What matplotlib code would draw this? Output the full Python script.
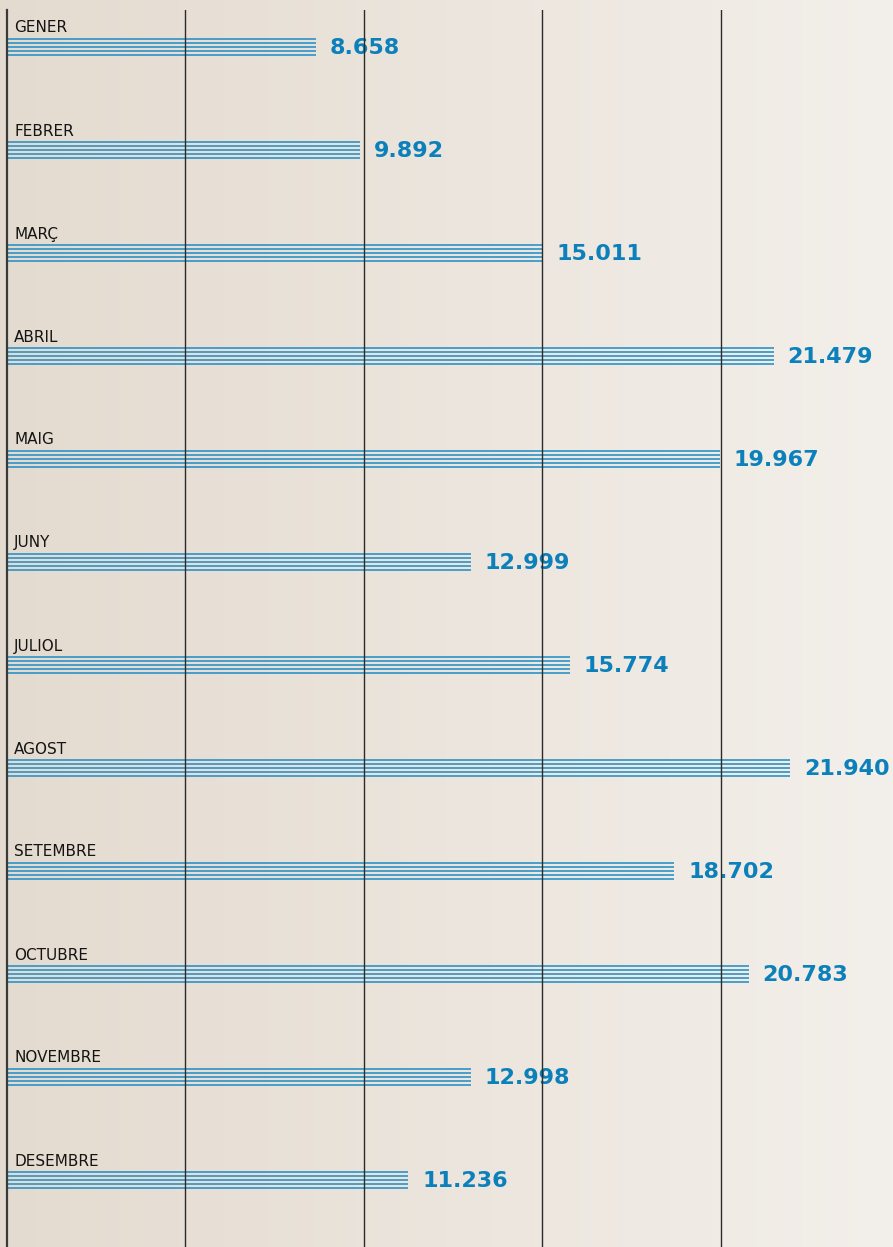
import numpy as np
import matplotlib
matplotlib.use('Agg')
import matplotlib.pyplot as plt
from matplotlib.colors import LinearSegmentedColormap

months = ["GENER", "FEBRER", "MARÇ", "ABRIL", "MAIG", "JUNY", "JULIOL",
          "AGOST", "SETEMBRE", "OCTUBRE", "NOVEMBRE", "DESEMBRE"]
values = [8658, 9892, 15011, 21479, 19967, 12999, 15774,
          21940, 18702, 20783, 12998, 11236]
labels = ["8.658", "9.892", "15.011", "21.479", "19.967", "12.999", "15.774",
          "21.940", "18.702", "20.783", "12.998", "11.236"]
grid_x = [5000, 10000, 15000, 20000]

W, H = 893, 1247
fig = plt.figure(figsize=(W / 100, H / 100), dpi=100)

# background gradient
bg = fig.add_axes([0, 0, 1, 1], zorder=0)
cmap = LinearSegmentedColormap.from_list("bg", ["#e4dbd0", "#f3efea"])
bg.imshow(np.linspace(0, 1, 256).reshape(1, -1), aspect='auto', cmap=cmap,
          extent=[0, 1, 0, 1])
bg.axis('off')

ax = fig.add_axes([7 / W, 0, 886 / W, 1237 / H], zorder=1)
ax.patch.set_alpha(0)
px = 1 / 0.03569  # data units per pixel on x
ax.set_xlim(0, 886 * px)
row = 103.0
ax.set_ylim((1247 - 47) / row, (10 - 47) / row)

blue = "#2a93c8"
offsets = np.array([-8, -4, 0, 4, 8]) / row
for i, v in enumerate(values):
    for o in offsets:
        ax.hlines(i + o, 0, v, color=blue, lw=1.2, zorder=2)
    ax.text(v + 14 * px, i + 1 / row, labels[i], color="#0b80bb", fontsize=16,
            fontweight='bold', va='center', ha='left', zorder=3)
    ax.text(7 * px, i - 19 / row, months[i], color="#141414", fontsize=11,
            va='center', ha='left', zorder=3)

for gx in grid_x:
    ax.axvline(gx, color="#2b2b2b", lw=1.0, zorder=4)

for s in ["top", "right", "bottom"]:
    ax.spines[s].set_visible(False)
ax.spines["left"].set_color("#3a3a3a")
ax.spines["left"].set_linewidth(1.6)
ax.spines["left"].set_zorder(4)
ax.set_xticks([])
ax.set_yticks([])

fig.savefig("out.png", dpi=100)
